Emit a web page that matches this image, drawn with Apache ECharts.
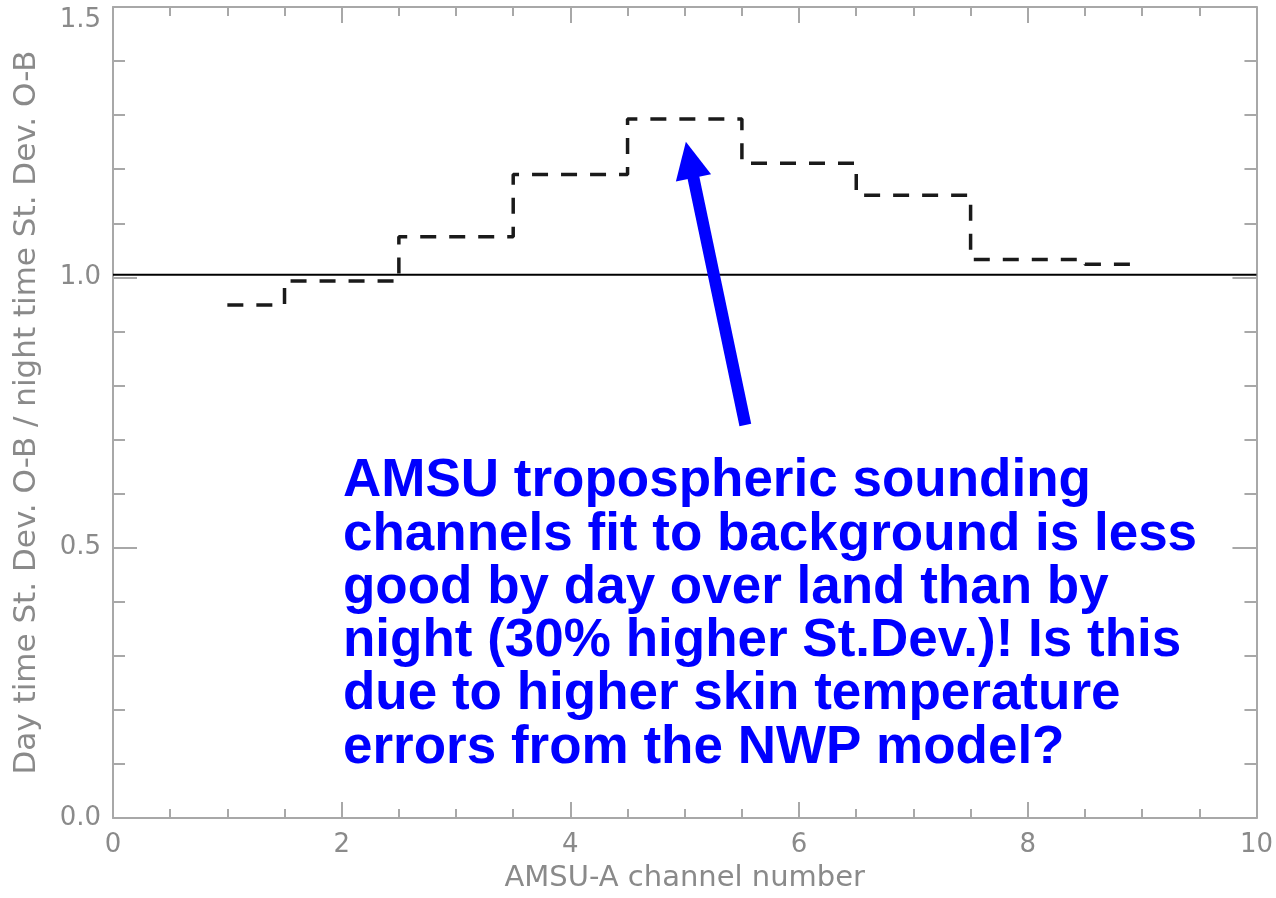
<!DOCTYPE html>
<html>
<head>
<meta charset="utf-8">
<script src="https://cdn.jsdelivr.net/npm/echarts@6/dist/echarts.min.js"></script>
<style>
  html, body { margin: 0; padding: 0; background: #fff; }
  #chart { width: 1276px; height: 898px; }
</style>
</head>
<body>
<div id="chart"></div>
<script>
  // AMSU-A channels and day/night St.Dev ratio
  var channels = [1, 2, 3, 4, 5, 6, 7, 8, 9];
  var ratio = [0.949, 0.993, 1.075, 1.190, 1.293, 1.211, 1.152, 1.033, 1.024];
  var refLevel = 1.005;
  var xTicks = [0, 2, 4, 6, 8, 10];
  var yTicks = [0.0, 0.5, 1.0, 1.5];
  var noteLines = [
    'AMSU tropospheric sounding',
    'channels fit to background is less',
    'good by day over land than by',
    'night (30% higher St.Dev.)! Is this',
    'due to higher skin temperature',
    'errors from the NWP model?'
  ];
  // arrow annotation, in data units
  var arrowTail = [5.53, 0.727];
  var arrowTip = [5.01, 1.251];

  var axisGrey = '#a8a8a8';
  var textGrey = '#8a8a8a';
  var tickFont = 'DejaVu Sans';

  function xAxisDef(pos, withLabels) {
    return {
      type: 'value',
      position: pos,
      min: xTicks[0],
      max: xTicks[xTicks.length - 1],
      interval: 2,
      axisLine: {show: true, onZero: false, lineStyle: {color: axisGrey, width: 2}},
      axisTick: {show: true, inside: true, length: 16, lineStyle: {color: axisGrey, width: 2}},
      minorTick: {show: true, splitNumber: 4, length: 9, lineStyle: {color: axisGrey, width: 2}},
      splitLine: {show: false},
      axisLabel: {show: withLabels, fontSize: 26, color: textGrey, fontFamily: tickFont, margin: 14},
      name: withLabels ? 'AMSU-A channel number' : '',
      nameLocation: 'middle',
      nameGap: 46,
      nameTextStyle: {fontSize: 29, color: textGrey, fontFamily: tickFont}
    };
  }
  function yAxisDef(pos, withLabels) {
    return {
      type: 'value',
      position: pos,
      min: yTicks[0],
      max: yTicks[yTicks.length - 1],
      interval: 0.5,
      axisLine: {show: true, onZero: false, lineStyle: {color: axisGrey, width: 2}},
      axisTick: {show: true, inside: true, length: 24, lineStyle: {color: axisGrey, width: 2}},
      minorTick: {show: true, splitNumber: 5, length: 12, lineStyle: {color: axisGrey, width: 2}},
      splitLine: {show: false},
      axisLabel: {
        show: withLabels, fontSize: 26, color: textGrey, fontFamily: tickFont, margin: 12,
        verticalAlignMaxLabel: 'top',
        formatter: function(v) { return v.toFixed(1); }
      },
      name: withLabels ? 'Day time St. Dev. O-B / night time St. Dev. O-B' : '',
      nameLocation: 'middle',
      nameGap: 71,
      nameTextStyle: {fontSize: 31, color: textGrey, fontFamily: tickFont}
    };
  }

  var chart = echarts.init(document.getElementById('chart'));
  var option = {
    animation: false,
    backgroundColor: '#fff',
    grid: {left: 113, right: 19, top: 7, bottom: 73, containLabel: false},
    xAxis: [xAxisDef('bottom', true), xAxisDef('top', false)],
    yAxis: [yAxisDef('left', true), yAxisDef('right', false)],
    series: [
      {
        type: 'line',
        name: 'reference',
        data: [[xTicks[0], refLevel], [xTicks[xTicks.length - 1], refLevel]],
        showSymbol: false,
        lineStyle: {color: '#000', width: 2}
      },
      {
        type: 'line',
        name: 'ratio',
        step: 'middle',
        data: channels.map(function(c, i) { return [c, ratio[i]]; }),
        showSymbol: false,
        lineStyle: {color: '#1a1a1a', width: 3.5, type: [16, 13]}
      }
    ]
  };
  chart.setOption(option);

  // arrow + note drawn after the scales exist
  var tail = chart.convertToPixel({gridIndex: 0}, arrowTail);
  var tip = chart.convertToPixel({gridIndex: 0}, arrowTip);
  var dx = tip[0] - tail[0], dy = tip[1] - tail[1];
  var len = Math.sqrt(dx * dx + dy * dy);
  var ux = dx / len, uy = dy / len;
  var headLen = 37, headHalf = 18;
  var base = [tip[0] - ux * headLen, tip[1] - uy * headLen];
  var p1 = [base[0] - uy * headHalf, base[1] + ux * headHalf];
  var p2 = [base[0] + uy * headHalf, base[1] - ux * headHalf];

  chart.setOption({
    graphic: [
      {
        type: 'line',
        shape: {x1: tail[0], y1: tail[1], x2: base[0] + ux * 2, y2: base[1] + uy * 2},
        style: {stroke: '#0000ff', lineWidth: 12},
        z: 100
      },
      {
        type: 'polygon',
        shape: {points: [tip, p1, p2]},
        style: {fill: '#0000ff'},
        z: 100
      },
      {
        type: 'text',
        left: 343,
        top: 455,
        style: {
          text: noteLines.join('\n'),
          font: 'bold 53px "Liberation Sans", Arial, sans-serif',
          fill: '#0000ff',
          lineHeight: 53.3
        },
        z: 100
      }
    ]
  });
</script>
</body>
</html>
